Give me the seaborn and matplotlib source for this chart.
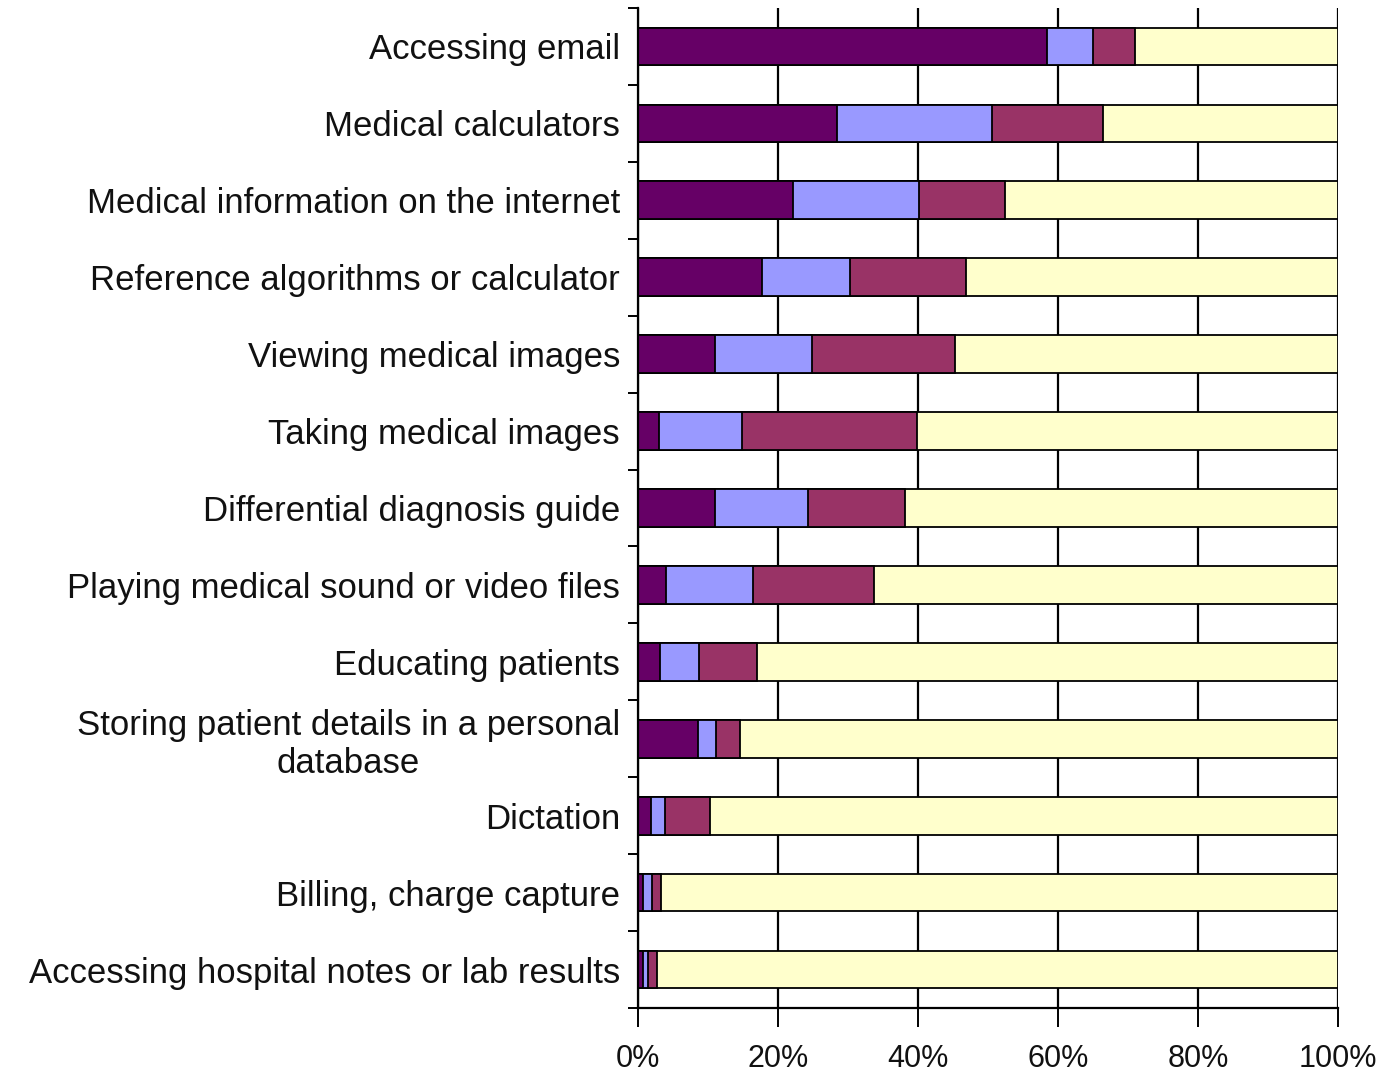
import numpy as np
import pandas as pd
import matplotlib
matplotlib.use("Agg")
import matplotlib.pyplot as plt
import seaborn as sns

categorias = [
    "Accessing email",
    "Medical calculators",
    "Medical information on the internet",
    "Reference algorithms or calculator",
    "Viewing medical images",
    "Taking medical images",
    "Differential diagnosis guide",
    "Playing medical sound or video files",
    "Educating patients",
    "Storing patient details in a personal\ndatabase",
    "Dictation",
    "Billing, charge capture",
    "Accessing hospital notes or lab results",
]

# four stacked segments per task (percent)
serie_1 = [58.4, 28.4, 22.1, 17.7, 11.0, 3.0, 11.0, 4.0, 3.1, 8.6, 1.9, 0.7, 0.7]
serie_2 = [6.6, 22.2, 18.0, 12.6, 13.9, 11.9, 13.3, 12.4, 5.6, 2.5, 2.0, 1.3, 0.7]
serie_3 = [6.0, 15.8, 12.3, 16.6, 20.4, 25.0, 13.8, 17.3, 8.3, 3.5, 6.4, 1.3, 1.3]
serie_4 = [29.0, 33.6, 47.6, 53.1, 54.7, 60.1, 61.9, 66.3, 83.0, 85.4, 89.7, 96.7, 97.3]

cores = ["#660066", "#9999ff", "#993366", "#ffffcc"]
ticks_x = [0, 20, 40, 60, 80, 100]

plt.rcParams["font.family"] = ["Liberation Sans", "DejaVu Sans"]

df = pd.DataFrame({
    "tarefa": categorias,
    "s1": serie_1, "s2": serie_2, "s3": serie_3, "s4": serie_4,
})
acum = df[["s1", "s2", "s3", "s4"]].cumsum(axis=1)

fig = plt.figure(figsize=(13.97, 10.81), dpi=100)
ax = fig.add_axes([0.4567, 0.0675, 0.5011, 0.9251])

# stacked bars drawn as overlapping cumulative layers, longest first
for col, cor in zip(["s4", "s3", "s2", "s1"], cores[::-1]):
    sns.barplot(
        x=acum[col],
        y=df["tarefa"],
        order=categorias,
        orient="h",
        color=cor,
        width=0.49,
        edgecolor="black",
        linewidth=1.3,
        saturation=1,
        ax=ax,
    )

ax.set(xlabel="", ylabel="")
ax.set_xlim(0, 100)
ax.set_ylim(len(categorias) - 0.5, -0.5)
ax.set_xticks(ticks_x)
ax.set_xticklabels([f"{t}%" for t in ticks_x])
ax.xaxis.grid(True, color="black", linewidth=1.6)
ax.set_axisbelow(True)

ax.set_yticks(np.arange(-0.5, len(categorias)), minor=True)
ax.tick_params(axis="y", which="major", length=0, pad=13, labelsize=25, labelcolor="#111111")
ax.tick_params(axis="y", which="minor", length=7, width=1.4, direction="out")
ax.tick_params(axis="x", length=14, width=1.4, direction="out", pad=12,
               labelsize=22, labelcolor="#111111")
for lbl in ax.get_yticklabels():
    lbl.set_multialignment("center")

for lado in ["top", "right"]:
    ax.spines[lado].set_visible(False)
for lado in ["left", "bottom"]:
    ax.spines[lado].set_linewidth(1.6)

fig.savefig("out.png", dpi=100, facecolor="white")
